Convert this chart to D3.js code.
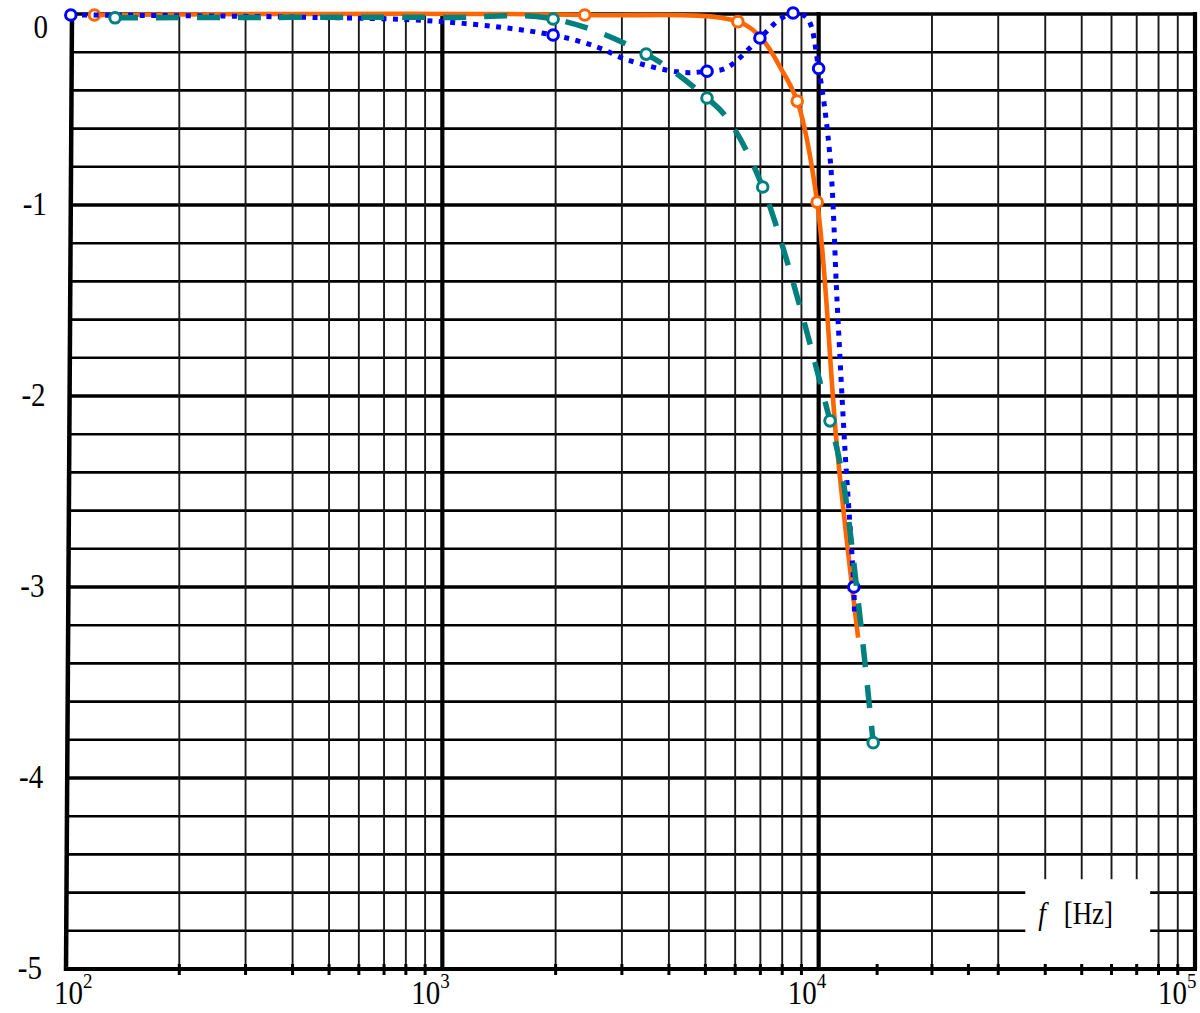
<!DOCTYPE html>
<html><head><meta charset="utf-8">
<script src="https://cdn.jsdelivr.net/npm/d3@7"></script>
<style>html,body{margin:0;padding:0;background:#fff;} svg{display:block;}</style>
</head><body><svg id="c" width="1200" height="1013"></svg>
<script>
// ---- data ----
const yTickValues = [0, -1, -2, -3, -4, -5];
const yTickLabels = ["0", "-1", "-2", "-3", "-4", "-5"];
const xDecades = [1e2, 1e3, 1e4, 1e5];
const xDecadeExp = ["2", "3", "4", "5"];
const extraTicks = [14300, 25000];
const axisLabelF = "f";
const axisLabelUnit = "[Hz]";

const orangeF = [119, 2390, 6100, 7110, 7890, 8770, 9910, 11200, 12730];
const orangeV = [-0.005, -0.005, -0.04, -0.136, -0.277, -0.456, -0.985, -2.28, -3.265];
const orangeM = [1, 1, 1, 0, 0, 1, 1, 0, 0];

const blueF = [103, 400, 1000, 1970, 2580, 3100, 4300, 5050, 5680, 6980, 7850, 8550, 9310, 10000, 10720, 11190, 11750, 12400, 12450];
const blueV = [-0.005, -0.016, -0.04, -0.11, -0.173, -0.24, -0.305, -0.30, -0.283, -0.126, -0.031, 0.005, -0.02, -0.285, -0.75, -1.5, -2.285, -3.0, -3.15];
const blueM = [1, 0, 0, 1, 0, 0, 0, 1, 0, 1, 0, 1, 0, 1, 0, 0, 0, 1, 0];

const tealF = [135, 1000, 1970, 3480, 5050, 5710, 7100, 10720, 11540, 12730, 13960];
const tealV = [-0.02, -0.018, -0.026, -0.21, -0.44, -0.545, -0.906, -2.13, -2.41, -3.07, -3.815];
const tealM = [1, 0, 1, 1, 1, 0, 1, 1, 0, 0, 1];

// ---- chart ----
const svg = d3.select("#c");
const x = d3.scaleLog().domain([1e2, 1e5]).range([66, 1195]);
const y = d3.scaleLinear().domain([-5, 0]).range([969, 14]);
const leftX = v => x(1e2) + 6 * (v + 5) / 5;
const font = "'Liberation Serif','Times New Roman',serif";
const SY = 1.15; // vertical stretch of text as in reference

const minorX = [];
[1e2, 1e3, 1e4].forEach(d => { for (let k = 2; k <= 9; k++) minorX.push(k * d); });
const hVals = d3.range(26).map(i => +(-5 + i * 0.2).toFixed(1));
const isMajorH = v => Math.abs(v - Math.round(v)) < 1e-6;

const g = svg.append("g");
// horizontal grid
g.selectAll("line.h").data(hVals).join("line")
  .attr("x1", d => leftX(d)).attr("x2", x(1e5))
  .attr("y1", d => y(d)).attr("y2", d => y(d))
  .attr("stroke", "#000").attr("stroke-width", d => isMajorH(d) ? 3.6 : 2.6);
// vertical minor grid
g.selectAll("line.v").data(minorX).join("line")
  .attr("x1", d => x(d)).attr("x2", d => x(d))
  .attr("y1", y(0)).attr("y2", y(-5))
  .attr("stroke", "#1a1a1a").attr("stroke-width", 1.9);

// white box behind axis label
const bx0 = x(35400), bx1 = x(76000);
g.append("rect").attr("x", bx0).attr("y", y(-4.53)).attr("width", bx1 - bx0)
  .attr("height", y(-4.98) - y(-4.53)).attr("fill", "#fff");

// decade lines
g.selectAll("line.d").data(xDecades.slice(1)).join("line")
  .attr("x1", d => x(d)).attr("x2", d => x(d))
  .attr("y1", y(0) - 2).attr("y2", y(-5))
  .attr("stroke", "#000").attr("stroke-width", 4.2);
// left axis (slightly slanted as in reference)
g.append("line").attr("x1", leftX(0)).attr("y1", y(0) - 2).attr("x2", leftX(-5)).attr("y2", y(-5) + 2)
  .attr("stroke", "#000").attr("stroke-width", 4.5);
// bottom axis
g.append("line").attr("x1", leftX(-5) - 2).attr("x2", x(1e5) + 2).attr("y1", y(-5)).attr("y2", y(-5))
  .attr("stroke", "#000").attr("stroke-width", 4);
// ticks
g.selectAll("line.t").data(minorX.concat(extraTicks)).join("line")
  .attr("x1", d => x(d)).attr("x2", d => x(d))
  .attr("y1", y(-5) - 5).attr("y2", y(-5) + 6)
  .attr("stroke", "#000").attr("stroke-width", 3);

function stretchedText(parent, tx, ty, size, anchor) {
  return parent.append("text")
    .attr("transform", `translate(${tx},${ty}) scale(1,${SY})`)
    .attr("text-anchor", anchor)
    .attr("font-family", font).attr("font-size", size);
}

// y labels
yTickValues.forEach((d, i) => {
  const ty = (d === 0 ? y(d) + 14 : y(d)) + 10;
  stretchedText(g, leftX(d) - 24, ty, 29, "end").text(yTickLabels[i]);
});

// x labels
xDecades.forEach((d, i) => {
  let xe = x(d) - 2;
  if (i === 0) xe = x(d) + 17;
  if (i === xDecades.length - 1) xe = x(d) - 8;
  stretchedText(g, xe, 1004, 29, "end").text("10");
  stretchedText(g, xe, 988, 19, "start").text(xDecadeExp[i]);
});

// axis title
const at = stretchedText(g, x(38300), 924, 27, "start");
at.append("tspan").attr("font-style", "italic").text(axisLabelF);
at.append("tspan").attr("dx", 18).text(axisLabelUnit);

// series
function drawSeries(F, V, M, color, width, dash) {
  const pts = F.map((f, i) => ({ f, v: V[i], m: M[i] }));
  const line = d3.line().x(d => x(d.f)).y(d => y(d.v)).curve(d3.curveCatmullRom.alpha(0.5));
  svg.append("path").datum(pts).attr("d", line)
    .attr("fill", "none").attr("stroke", color).attr("stroke-width", width)
    .attr("stroke-dasharray", dash).attr("stroke-linecap", "butt");
  svg.append("g").selectAll("circle").data(pts.filter(p => p.m)).join("circle")
    .attr("cx", d => x(d.f)).attr("cy", d => y(d.v)).attr("r", 5.3)
    .attr("fill", "#fff").attr("stroke", color).attr("stroke-width", 3);
}
drawSeries(orangeF, orangeV, orangeM, "#ff6600", 4.6, null);
drawSeries(blueF, blueV, blueM, "#0000ff", 5, "5 6.5");
drawSeries(tealF, tealV, tealM, "#00807f", 5.5, "23 18");
</script></body></html>
